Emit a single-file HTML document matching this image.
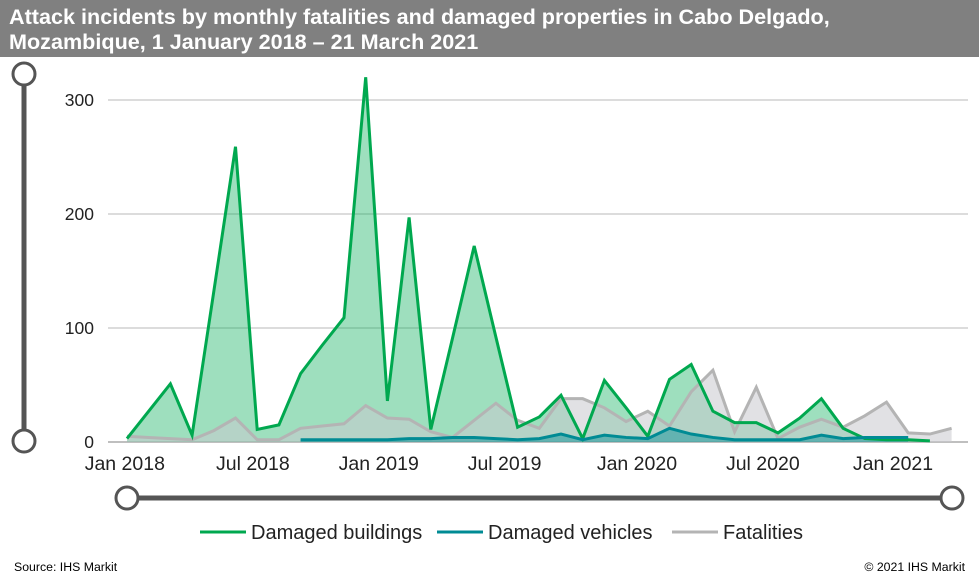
<!DOCTYPE html>
<html><head><meta charset="utf-8"><style>
body{margin:0;width:979px;height:588px;background:#fff;font-family:"Liberation Sans",Arial,sans-serif;overflow:hidden;position:relative}
#title{position:absolute;left:0;top:0;width:979px;height:57px;background:#808080;color:#fff;font-weight:bold;font-size:21.6px;line-height:25px;padding:4px 0 0 9px;box-sizing:border-box;white-space:nowrap}
.foot{position:absolute;top:560px;font-size:12.3px;color:#000}
</style></head><body>
<div id="title">Attack incidents by monthly fatalities and damaged properties in Cabo Delgado,<br>Mozambique, 1 January 2018 – 21 March 2021</div>
<svg id="chart" width="979" height="588" style="position:absolute;left:0;top:0"></svg>
<div class="foot" style="left:14px">Source: IHS Markit</div>
<div class="foot" style="right:14px">© 2021 IHS Markit</div>
<script>
const buildings=[3,27,51,6,132,259,11,15,60,85,109,320,36,197,11,91,172,92,13,22,41,3,54,30,5,55,68,27,17,17,8,21,38,12,3,2,2,1];
const vehicles=[null,null,null,null,null,null,null,null,2,2,2,2,2,3,3,4,4,3,2,3,7,2,6,4,3,12,7,4,2,2,2,2,6,3,4,4,4];
const fatalities=[5,4,3,2,10,21,2,2,12,14,16,32,21,20,9,4,19,34,19,12,38,38,30,18,27,14,44,63,9,48,3,13,20,13,23,35,8,7,12];
const yTicks=[0,100,200,300];
const xTickLabels=["Jan 2018","Jul 2018","Jan 2019","Jul 2019","Jan 2020","Jul 2020","Jan 2021"];
const xTickPos=[-0.1,5.8,11.6,17.4,23.5,29.3,35.3];
const NS="http://www.w3.org/2000/svg",svg=document.getElementById('chart');
const X=i=>127+i*21.7, Y=v=>442-v*1.14;
function mk(t,a,p){const e=document.createElementNS(NS,t);for(const k in a)e.setAttribute(k,a[k]);(p||svg).appendChild(e);return e;}
yTicks.forEach(v=>{
 const g=mk('line',{x1:108,x2:968,y1:Y(v),y2:Y(v),stroke:v?'#c8c8c8':'#999','stroke-width':1.2});
 
 
 const t=mk('text',{x:94,y:Y(v)+6,'text-anchor':'end','font-size':17.5,fill:'#222'});t.textContent=v;
 
 
});
xTickLabels.forEach((l,k)=>{
 const t=mk('text',{x:X(xTickPos[k]),y:470,'text-anchor':'middle','font-size':19.5,fill:'#222'});t.textContent=l;
 
 
});
function pts(arr){const p=[];arr.forEach((v,i)=>{if(v!=null)p.push([X(i),Y(v)]);});return p;}
function area(arr,fill,name){
 const p=pts(arr),line=p.map(q=>q.join(',')).join(' ');
 const a=mk('polygon',{points:p[0][0]+','+Y(0)+' '+line+' '+p[p.length-1][0]+','+Y(0),fill:fill});
 
 
}
function line(arr,stroke,name){
 const l=mk('polyline',{points:pts(arr).map(q=>q.join(',')).join(' '),fill:'none',stroke:stroke,'stroke-width':3});
 
 
}
area(buildings,'rgba(0,170,85,0.38)','damaged-buildings');
area(fatalities,'rgba(200,200,205,0.55)','fatalities');
area(vehicles,'rgba(0,140,150,0.45)','damaged-vehicles');
line(fatalities,'#b4b4b4','fatalities');
line(buildings,'#00a84f','damaged-buildings');
line(vehicles,'#008b94','damaged-vehicles');
const vs=mk('line',{x1:24,x2:24,y1:74,y2:441,stroke:'#555','stroke-width':5});


[74,441].forEach(y=>{const c=mk('circle',{cx:24,cy:y,r:11,fill:'#fff',stroke:'#555','stroke-width':3});
 
 });
const hs=mk('line',{x1:127,x2:952,y1:498,y2:498,stroke:'#555','stroke-width':5});


[127,952].forEach(x=>{const c=mk('circle',{cx:x,cy:498,r:11,fill:'#fff',stroke:'#555','stroke-width':3});
 
 });
[['Damaged buildings','#00a84f',200],['Damaged vehicles','#008b94',437],['Fatalities','#b4b4b4',672]].forEach(([n,c,x])=>{
 const g=mk('g',{});
 
 
 mk('line',{x1:x,x2:x+46,y1:532,y2:532,stroke:c,'stroke-width':3},g);
 const t=mk('text',{x:x+51,y:539,'font-size':20,fill:'#222'},g);t.textContent=n;
});
</script>
</body></html>
